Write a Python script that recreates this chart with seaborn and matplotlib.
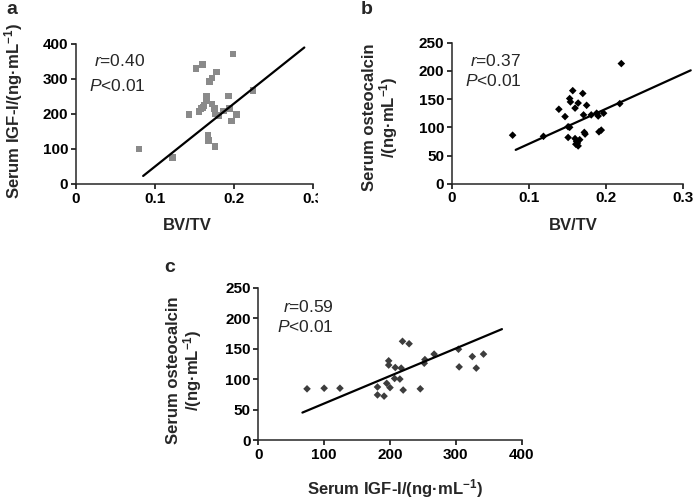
import matplotlib
matplotlib.use("Agg")
import matplotlib.pyplot as plt
import seaborn as sns
import pandas as pd
from matplotlib.transforms import Bbox, TransformedBbox

# panel a: BV/TV vs serum IGF-I
a_bvtv = [0.080, 0.122, 0.143, 0.152, 0.160, 0.156, 0.158, 0.161, 0.165, 0.165,
          0.172, 0.175, 0.167, 0.168, 0.176, 0.169, 0.172, 0.178, 0.176, 0.187,
          0.193, 0.199, 0.194, 0.197, 0.203, 0.224, 0.181, 0.162]
a_igf = [100, 75, 198, 330, 341, 207, 215, 218, 252, 238,
         229, 215, 138, 124, 107, 293, 303, 320, 202, 209,
         252, 372, 215, 180, 198, 267, 196, 225]
a_fit_x = [0.085, 0.289]
a_fit_y = [23, 390]

# panel b: BV/TV vs serum osteocalcin
b_bvtv = [0.079, 0.119, 0.139, 0.147, 0.151, 0.153, 0.151, 0.157, 0.153, 0.154,
          0.160, 0.164, 0.170, 0.175, 0.171, 0.160, 0.162, 0.161, 0.164, 0.166,
          0.163, 0.172, 0.173, 0.181, 0.188, 0.190, 0.197, 0.191, 0.194, 0.218,
          0.220]
b_ost = [86, 84, 132, 119, 101, 100, 82, 165, 151, 145,
         134, 143, 160, 139, 122, 80, 75, 70, 67, 78,
         72, 91, 88, 122, 125, 120, 125, 92, 95, 142,
         213]
b_fit_x = [0.083, 0.310]
b_fit_y = [60, 201]

# panel c: serum IGF-I vs serum osteocalcin
c_igf = [74, 100, 124, 181, 181, 191, 195, 200, 198, 198,
         208, 207, 215, 217, 220, 219, 229, 246, 253, 252,
         267, 304, 305, 325, 331, 342]
c_ost = [84, 85, 85, 87, 74, 72, 93, 86, 130, 123,
         119, 101, 100, 118, 82, 162, 158, 84, 132, 126,
         141, 149, 120, 137, 118, 141]
c_fit_x = [67, 370]
c_fit_y = [45, 182]

sns.set_style("ticks")
plt.rcParams["font.family"] = ["Liberation Sans", "DejaVu Sans"]
plt.rcParams["mathtext.fontset"] = "custom"
plt.rcParams["mathtext.rm"] = "Liberation Sans:bold"
plt.rcParams["mathtext.it"] = "Liberation Sans:italic"
plt.rcParams["axes.linewidth"] = 1.1
plt.rcParams["xtick.major.width"] = 1.1
plt.rcParams["ytick.major.width"] = 1.1
plt.rcParams["xtick.major.size"] = 3.5
plt.rcParams["ytick.major.size"] = 3.5
plt.rcParams["xtick.color"] = "black"
plt.rcParams["ytick.color"] = "black"

W, H = 697, 501
fig = plt.figure(figsize=(W / 100, H / 100), dpi=100)


def px_rect(x0, y0, x1, y1):
    return [x0 / W, 1 - y1 / H, (x1 - x0) / W, (y1 - y0) / H]


unit = r"(ng·mL$\mathrm{^{-1}}$)"
lab_font = dict(fontsize=12, fontweight="bold")


def panel(rect, x, y, fx, fy, marker, color, size, xlim, ylim, xt, yt,
          xlab, ylab, xlab_pos, ylab_pos, txt_r, txt_pos):
    ax = fig.add_axes(rect)
    df = pd.DataFrame({"x": x, "y": y})
    sns.scatterplot(data=df, x="x", y="y", marker=marker, color=color, s=size,
                    edgecolor="none", linewidth=0, ax=ax, zorder=3)
    line = pd.DataFrame({"x": fx, "y": fy})
    sns.lineplot(data=line, x="x", y="y", color="black", lw=1.6, ax=ax,
                 clip_on=False, zorder=4)
    ax.set_xlim(*xlim)
    ax.set_ylim(*ylim)
    ax.set_xticks(xt)
    ax.set_yticks(yt)
    ax.set_xticklabels([str(t) for t in xt], fontsize=11, fontweight="bold")
    ax.set_yticklabels([str(t) for t in yt], fontsize=11, fontweight="bold")
    ax.tick_params(pad=2)
    sns.despine(ax=ax)
    ax.set_xlabel(xlab, **lab_font)
    ax.set_ylabel(ylab, **lab_font, linespacing=1.0)
    ax.xaxis.set_label_coords(*xlab_pos)
    ax.yaxis.set_label_coords(*ylab_pos)
    ax.xaxis.label.set_va("center")
    ax.yaxis.label.set_va("center")
    ax.text(txt_pos[0], txt_pos[1], r"$\mathit{r}$=" + txt_r, fontsize=12.5,
            transform=ax.transAxes, va="center", ha="left")
    ax.text(txt_pos[2], txt_pos[3], r"$\mathit{P}$<0.01", fontsize=12.5,
            transform=ax.transAxes, va="center", ha="left")
    return ax


ax_a = panel(px_rect(76, 44, 313, 184), a_bvtv, a_igf, a_fit_x, a_fit_y,
             "s", "#8a8a8a", 22, (0, 0.3), (0, 400),
             [0, 0.1, 0.2, 0.3], [0, 100, 200, 300, 400],
             "BV/TV", "Serum IGF-I/" + unit,
             (0.47, -0.30), (-0.262, 0.52), "0.40",
             (0.075, 0.875, 0.055, 0.70))

# panel a's last tick label is cut by the neighbouring panel
clip = TransformedBbox(Bbox([[0, 0], [318 / W, 1]]), fig.transFigure)
for lab in ax_a.get_xticklabels():
    lab.set_clip_box(clip)
    lab.set_clip_on(True)

panel(px_rect(451.7, 42.7, 683, 183.7), b_bvtv, b_ost, b_fit_x, b_fit_y,
      "D", "black", 15, (0, 0.3), (0, 250),
      [0, 0.1, 0.2, 0.3], [0, 50, 100, 150, 200, 250],
      "BV/TV", "Serum osteocalcin\n/" + unit,
      (0.524, -0.30), (-0.306, 0.47), "0.37",
      (0.08, 0.87, 0.058, 0.725))

panel(px_rect(258.3, 287.7, 521.7, 440), c_igf, c_ost, c_fit_x, c_fit_y,
      "D", "#3d3d3d", 15, (0, 400), (0, 250),
      [0, 100, 200, 300, 400], [0, 50, 100, 150, 200, 250],
      "Serum IGF-I/" + unit, "Serum osteocalcin\n/" + unit,
      (0.519, -0.318), (-0.278, 0.46), "0.59",
      (0.095, 0.875, 0.07, 0.74))

for letter, (px, py) in {"a": (11.5, 10), "b": (367, 10), "c": (170, 268)}.items():
    fig.text(px / W, 1 - py / H, letter, fontsize=14, fontweight="bold",
             ha="center", va="center")

fig.savefig("out.png", dpi=100)
